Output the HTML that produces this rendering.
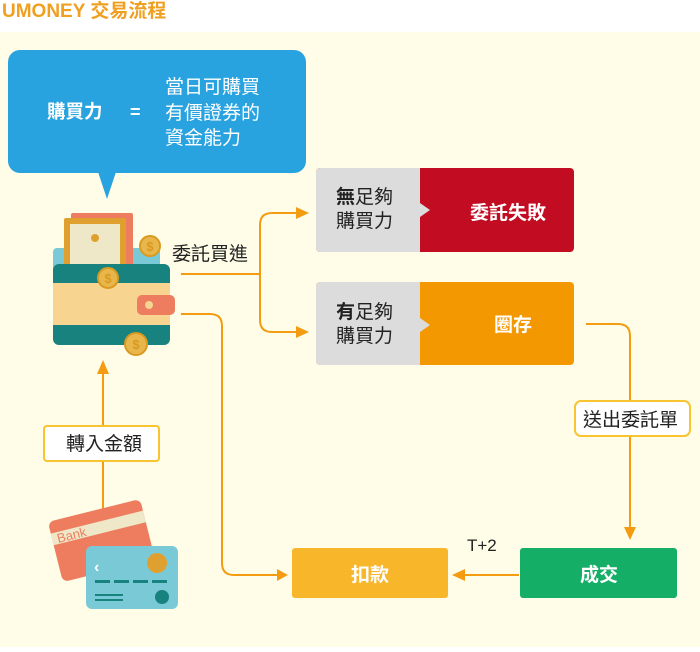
<!DOCTYPE html>
<html><head><meta charset="utf-8"><style>
body{margin:0;width:700px;height:647px;overflow:hidden;background:#fff;font-family:"Liberation Sans","Noto Sans CJK TC",sans-serif;}
</style></head><body>
<svg width="700" height="647" xmlns="http://www.w3.org/2000/svg" font-family="Liberation Sans, Noto Sans CJK TC, sans-serif">
<rect x="0" y="0" width="700" height="647" fill="#fff"/>
<rect x="0" y="32" width="700" height="615" fill="#fffde8"/>
<text x="2" y="17" font-size="19" font-weight="bold" fill="#f0a020">UMONEY 交易流程</text>
<!-- bubble -->
<rect x="8" y="50" width="298" height="123" rx="12" fill="#29a3df"/>
<polygon points="98,172 116,172 107,199" fill="#29a3df"/>
<text x="47" y="118" font-size="18.5" font-weight="bold" fill="#fff">購買力</text>
<text x="130" y="118" font-size="18" font-weight="bold" fill="#fff">=</text>
<text x="165" y="93" font-size="19" fill="#fff">當日可購買</text>
<text x="165" y="119" font-size="19" fill="#fff">有價證券的</text>
<text x="165" y="144" font-size="19" fill="#fff">資金能力</text>
<!-- wallet -->
<rect x="53" y="248" width="107" height="30" rx="4" fill="#7ac9d6"/>
<rect x="71" y="213" width="62" height="55" rx="2" fill="#ee7d60"/>
<rect x="64" y="218" width="62" height="50" rx="2" fill="#e0a030"/>
<rect x="70" y="224" width="50" height="44" fill="#eee8c8"/>
<circle cx="95" cy="238" r="4" fill="#e0a030"/>
<rect x="53" y="264" width="117" height="81" rx="6" fill="#18827e"/>
<rect x="53" y="283" width="117" height="42" fill="#f7d48f"/>
<rect x="137" y="295" width="38" height="20" rx="5" fill="#ee7d60"/>
<circle cx="149" cy="305" r="4" fill="#f7d48f"/>
<g fill="#e8b64a" stroke="#d89a20" stroke-width="2">
<circle cx="108" cy="278" r="10"/><circle cx="150" cy="246" r="10"/><circle cx="136" cy="344" r="11"/>
</g>
<g font-size="13" font-weight="bold" fill="#d89a20" text-anchor="middle">
<text x="108" y="283">$</text><text x="150" y="251">$</text><text x="136" y="349">$</text>
</g>
<!-- connectors -->
<g fill="none" stroke="#f39c12" stroke-width="2">
<path d="M181 274 H260"/>
<path d="M297 213 H272 Q260 213 260 225 V320 Q260 332 272 332 H297"/>
<path d="M181 314 H210 Q222 314 222 326 V563 Q222 575 234 575 H278"/>
<path d="M586 324 H618 Q630 324 630 336 V528"/>
<path d="M519 575 H463"/>
<path d="M103 520 V372"/>
</g>
<g fill="#f39c12">
<polygon points="296,207 309,213 296,219"/>
<polygon points="296,326 309,332 296,338"/>
<polygon points="277,569 288,575 277,581"/>
<polygon points="624,527 636,527 630,540"/>
<polygon points="465,569 452,575 465,581"/>
<polygon points="97,374 109,374 103,360"/>
</g>
<!-- cards -->
<g transform="rotate(-14 100 545)"><rect x="55" y="510" width="95" height="62" rx="6" fill="#ee7d60"/><rect x="55" y="522" width="95" height="12" fill="#eee8c8"/><text x="60" y="533" font-size="13" fill="#ee7d60">Bank</text></g>
<rect x="86" y="546" width="92" height="63" rx="6" fill="#7ac9d6"/>
<circle cx="157" cy="563" r="10" fill="#e0a030"/>
<text x="94" y="572" font-size="16" font-weight="bold" fill="#fff">‹</text>
<g fill="#18827e"><rect x="95" y="580" width="15" height="3"/><rect x="114" y="580" width="15" height="3"/><rect x="133" y="580" width="15" height="3"/><rect x="152" y="580" width="15" height="3"/><rect x="95" y="594" width="28" height="2"/><rect x="95" y="599" width="28" height="2"/><circle cx="162" cy="597" r="7"/></g>
<text x="172" y="260" font-size="19" fill="#222">委託買進</text>
<!-- labels -->
<rect x="44" y="426" width="115" height="35" rx="3" fill="#fff" stroke="#f8c430" stroke-width="2"/>
<text x="66" y="450" font-size="19" fill="#222">轉入金額</text>
<rect x="575" y="401" width="115" height="35" rx="6" fill="#fff" stroke="#f8c430" stroke-width="2"/>
<text x="583" y="426" font-size="19" fill="#222">送出委託單</text>
<!-- boxes -->
<rect x="316" y="168" width="258" height="84" rx="4" fill="#c20c22"/>
<path d="M320 168 H420 V203 L430 210 L420 217 V252 H320 Q316 252 316 248 V172 Q316 168 320 168Z" fill="#dcdcdc"/>
<text x="336" y="203" font-size="19" fill="#222"><tspan font-weight="bold">無</tspan>足夠</text>
<text x="336" y="227" font-size="19" fill="#222">購買力</text>
<text x="470" y="219" font-size="19" font-weight="bold" fill="#fff">委託失敗</text>
<rect x="316" y="282" width="258" height="83" rx="4" fill="#f39800"/>
<path d="M320 282 H420 V318 L430 325 L420 332 V365 H320 Q316 365 316 361 V286 Q316 282 320 282Z" fill="#dcdcdc"/>
<text x="336" y="318" font-size="19" fill="#222"><tspan font-weight="bold">有</tspan>足夠</text>
<text x="336" y="342" font-size="19" fill="#222">購買力</text>
<text x="494" y="331" font-size="19" font-weight="bold" fill="#fff">圈存</text>
<rect x="292" y="548" width="156" height="50" rx="3" fill="#f8b62b"/>
<text x="351" y="581" font-size="19" font-weight="bold" fill="#fff">扣款</text>
<rect x="520" y="548" width="157" height="50" rx="3" fill="#14ae67"/>
<text x="580" y="581" font-size="19" font-weight="bold" fill="#fff">成交</text>
<text x="467" y="551" font-size="17" fill="#222">T+2</text>
</svg>
</body></html>
